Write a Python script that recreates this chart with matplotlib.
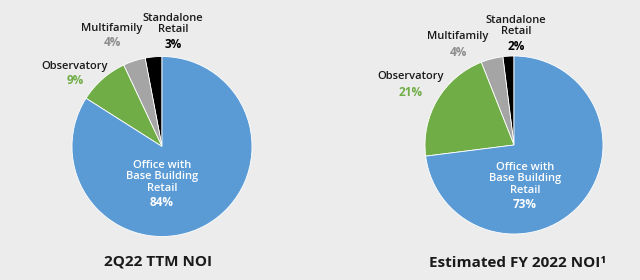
import matplotlib.pyplot as plt

# slice order: counter-clockwise from 12 o'clock
segments = ['Standalone\nRetail', 'Multifamily', 'Observatory', 'Office with\nBase Building\nRetail']
ttm_2q22 = [3, 4, 9, 84]
fy2022_est = [2, 4, 21, 73]
titles = ['2Q22 TTM NOI', 'Estimated FY 2022 NOI\u00b9']

colors = ['#000000', '#a5a5a5', '#70ad47', '#5b9bd5']
pct_colors = ['#000000', '#8c8c8c', '#70ad47', '#ffffff']
bg = '#ececec'

plt.rcParams['font.family'] = ['Open Sans', 'DejaVu Sans']

fig = plt.figure(figsize=(6.4, 2.8), dpi=100, facecolor=bg)

H = 280
# per-pie layout (pixels): center, radius, label spots (name, pct) per segment, title spot
layouts = [
    dict(center=(162, 146.5), r=90,
         spots=[((173, 24), (173, 45)), ((112, 29), (112, 43)),
                ((75, 67), (75, 81)), ((162, 177), (162, 203))],
         title=(158, 262)),
    dict(center=(514, 145), r=89,
         spots=[((516, 26), (516, 46)), ((458, 37), (458, 52)),
                ((411, 77), (411, 92)), ((525, 179), (525, 205))],
         title=(518, 263)),
]

for i, (vals, title, lay) in enumerate(zip([ttm_2q22, fy2022_est], titles, layouts)):
    ax = fig.add_axes([0.5 * i, 0, 0.5, 1])
    ax.set_facecolor(bg)
    cx, cy = lay['center']
    ax.pie(vals, colors=colors, startangle=90, counterclock=True,
           center=(cx, H - cy), radius=lay['r'],
           wedgeprops=dict(edgecolor='white', linewidth=0.6))
    ax.set_xlim(320 * i, 320 * (i + 1))
    ax.set_ylim(0, H)
    ax.set_aspect('auto')
    ax.axis('off')

    for j, (name, v) in enumerate(zip(segments, vals)):
        (nx, ny), (px, py) = lay['spots'][j]
        name_col = 'white' if j == 3 else '#1a1a1a'
        ax.text(nx, H - ny, name, ha='center', va='center', fontsize=8,
                color=name_col, linespacing=1.12, fontweight='semibold')
        ax.text(px, H - py, f'{v}%', ha='center', va='center', fontsize=8.5,
                color=pct_colors[j], fontweight='bold')

    tx, ty = lay['title']
    ax.text(tx, H - ty, title, ha='center', va='center', fontsize=11,
            fontweight='bold', color='#1a1a1a')

fig.savefig('out.png', dpi=100, facecolor=bg)
